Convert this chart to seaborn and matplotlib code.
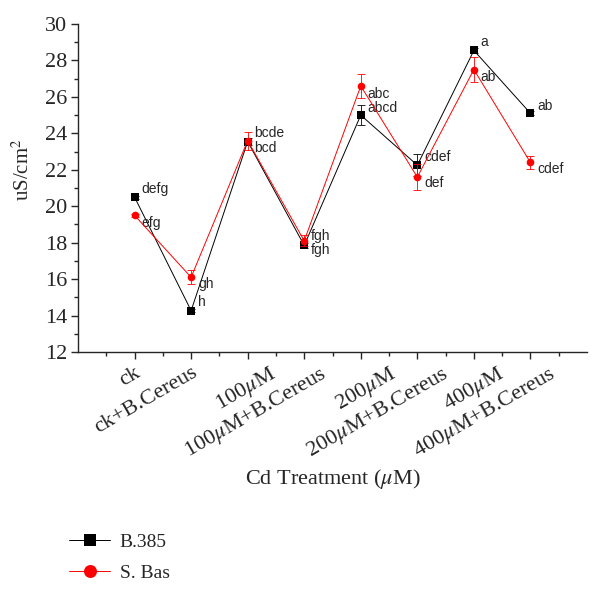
"""Electrical conductivity under Cd treatment, two cultivars."""

import matplotlib

matplotlib.use("Agg")
import matplotlib.pyplot as plt
import matplotlib.transforms as mtransforms
import numpy as np
import pandas as pd
import seaborn as sns

# data
treatments = [
    "ck",
    "ck+B.Cereus",
    "100$\\mu$M",
    "100$\\mu$M+B.Cereus",
    "200$\\mu$M",
    "200$\\mu$M+B.Cereus",
    "400$\\mu$M",
    "400$\\mu$M+B.Cereus",
]
b385_mean = [20.5, 14.27, 23.55, 17.85, 25.0, 22.25, 28.55, 25.1]
b385_err = [0.08, 0.08, 0.2, 0.15, 0.55, 0.6, 0.15, 0.1]
b385_letters = ["defg", "h", "bcd", "fgh", "abcd", "cdef", "a", "ab"]
sbas_mean = [19.5, 16.1, 23.6, 18.1, 26.6, 21.6, 27.5, 22.4]
sbas_err = [0.1, 0.39, 0.5, 0.3, 0.66, 0.71, 0.68, 0.36]
sbas_letters = ["efg", "gh", "bcde", "fgh", "abc", "def", "ab", "cdef"]
series = ["B.385", "S. Bas"]

# label offsets (points), y positive = up
b385_dy = [6, 6, -5, -3, 5, 6, 6, 5]
sbas_dy = [-5.5, -5, 5.5, 3.5, -6, -4.5, -5, -5]
# the original tool pushed the mu labels a bit to the right (pixels)
tick_shift = [0, 0, 21, 15, 28, 24, 23, 18]

df = pd.DataFrame({
    "treatment": treatments * 2,
    "value": b385_mean + sbas_mean,
    "cultivar": [series[0]] * len(treatments) + [series[1]] * len(treatments),
})

sns.set_theme(style="ticks")
plt.rcParams["font.family"] = ["Liberation Serif", "DejaVu Serif"]
plt.rcParams["mathtext.fontset"] = "stix"

fig = plt.figure(figsize=(6.01, 5.96), dpi=100)
ax = fig.add_axes([0.1298, 0.4094, 0.8469, 0.5503])

colors = {"B.385": "black", "S. Bas": "red"}
sns.lineplot(
    data=df, x="treatment", y="value", hue="cultivar", style="cultivar",
    hue_order=series, style_order=series, palette=colors,
    markers={"B.385": "s", "S. Bas": "o"}, dashes=False, sort=False,
    linewidth=0.7, markersize=5.5, markeredgewidth=0, ax=ax,
)
# put S. Bas on top, like the original
for line in ax.get_lines():
    if line.get_color() == "red":
        line.set_zorder(4)

xpos = np.arange(len(treatments))
ax.errorbar(xpos, b385_mean, yerr=b385_err, fmt="none", ecolor="black",
            elinewidth=0.6, capsize=3, capthick=0.6, zorder=2)
ax.errorbar(xpos, sbas_mean, yerr=sbas_err, fmt="none", ecolor="red",
            elinewidth=0.6, capsize=3, capthick=0.6, zorder=3)

for i in range(len(treatments)):
    ax.annotate(b385_letters[i], (xpos[i], b385_mean[i]), xytext=(5, b385_dy[i]),
                textcoords="offset points", ha="left", va="center",
                fontsize=10, family="Liberation Sans")
    ax.annotate(sbas_letters[i], (xpos[i], sbas_mean[i]), xytext=(5, sbas_dy[i]),
                textcoords="offset points", ha="left", va="center",
                fontsize=10, family="Liberation Sans")

ax.set_xlim(-1, 8)
ax.set_ylim(12, 30)
ax.set_yticks(np.arange(12, 31, 2))
ax.set_yticks(np.arange(13, 30, 2), minor=True)
ax.set_xticks(xpos)
ax.set_xticks(np.arange(-0.5, 8, 1), minor=True)
ax.set_xticklabels(treatments, rotation=30, ha="right", rotation_mode="anchor")
ax.tick_params(axis="both", which="major", length=5, width=1, labelsize=16,
               direction="out", pad=3)
ax.tick_params(axis="both", which="minor", length=3, width=1, direction="out")
for lab, dx in zip(ax.get_xticklabels(), tick_shift):
    shift = mtransforms.ScaledTranslation(dx / 100, 0, fig.dpi_scale_trans)
    lab.set_transform(lab.get_transform() + shift)
for side in ["left", "bottom"]:
    ax.spines[side].set_linewidth(1)
sns.despine(ax=ax)

ax.set_xlabel("Cd Treatment ($\\mu$M)", fontsize=16)
ax.xaxis.set_label_coords(0.5, -0.352)
ax.set_ylabel("uS/cm$^2$", fontsize=15)
ax.yaxis.set_label_coords(-0.087, 0.555)

handles, labels = ax.get_legend_handles_labels()
ax.legend(handles, labels, loc="upper left", bbox_to_anchor=(0.115, 0.105),
          bbox_transform=fig.transFigure, frameon=False, fontsize=14,
          borderpad=0, borderaxespad=0, handlelength=2.1, handletextpad=0.5,
          labelspacing=0.7, markerscale=1.7)

plt.savefig("out.png", dpi=100)
plt.close()
